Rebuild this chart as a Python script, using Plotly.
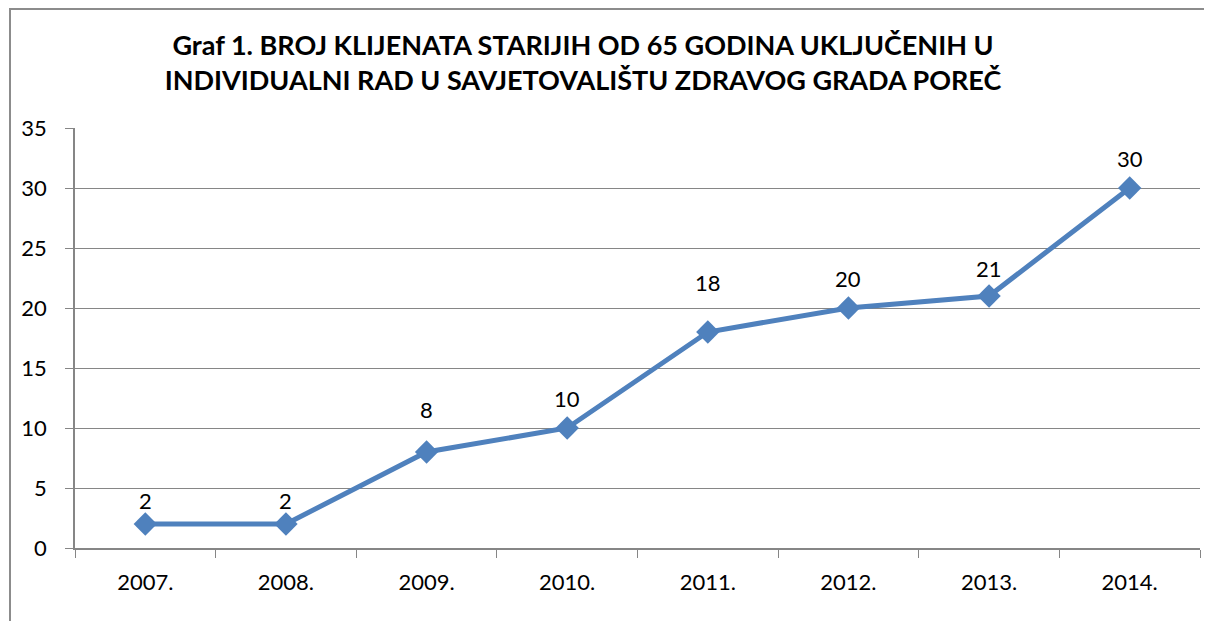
import plotly.graph_objects as go

# podaci
godine = ['2007.', '2008.', '2009.', '2010.', '2011.', '2012.', '2013.', '2014.']
broj_klijenata = [2, 2, 8, 10, 18, 20, 21, 30]

# pomak oznaka iznad tocaka (px), kao u originalu
pomak_oznake = [24, 24, 43, 30, 50, 30, 28, 30]

font_name = 'Lato, Open Sans, sans-serif'
siva = '#868686'

fig = go.Figure()
fig.add_trace(go.Scatter(
    x=godine,
    y=broj_klijenata,
    mode='lines+markers',
    line=dict(color='#4F81BD', width=5),
    marker=dict(symbol='diamond', size=18, color='#4F81BD'),
    showlegend=False,
))

# oznake vrijednosti iznad tocaka (x = indeks kategorije)
for i, v in enumerate(broj_klijenata):
    fig.add_annotation(x=i, y=v, text=str(v), showarrow=False,
                       yshift=pomak_oznake[i], font=dict(size=22, color='black'))

fig.update_layout(
    width=1212, height=621,
    margin=dict(l=67, r=20, t=120, b=81),
    paper_bgcolor='white', plot_bgcolor='white',
    font=dict(family=font_name, size=22, color='black'),
    title=dict(
        text='Graf 1. BROJ KLIJENATA STARIJIH OD 65 GODINA UKLJUČENIH U<br>INDIVIDUALNI RAD U SAVJETOVALIŠTU ZDRAVOG GRADA POREČ',
        x=575 / 1212, xanchor='center', y=1 - 47 / 621, yanchor='top',
        font=dict(size=27, color='black', family=font_name, weight='bold'),
    ),
    xaxis=dict(
        type='category', range=[-0.5, 7.5],
        showline=True, linecolor=siva, linewidth=1.5,
        showgrid=False, ticks='outside', ticklen=8, tickcolor=siva,
        tickson='boundaries', ticklabelstandoff=14,
    ),
    yaxis=dict(
        range=[0, 35], dtick=5,
        showline=True, linecolor=siva, linewidth=1.5,
        showgrid=True, gridcolor=siva, gridwidth=1,
        ticks='outside', ticklen=8, tickcolor=siva,
        ticklabelstandoff=14, zeroline=False,
    ),
    shapes=[dict(
        type='rect', xref='paper', yref='paper',
        x0=(2 - 67) / 1125, x1=1.2, y0=-0.5, y1=(540 - 1) / 420,
        line=dict(color='#8c8c8c', width=2), layer='below',
    )],
)

fig.write_html('out.html')
